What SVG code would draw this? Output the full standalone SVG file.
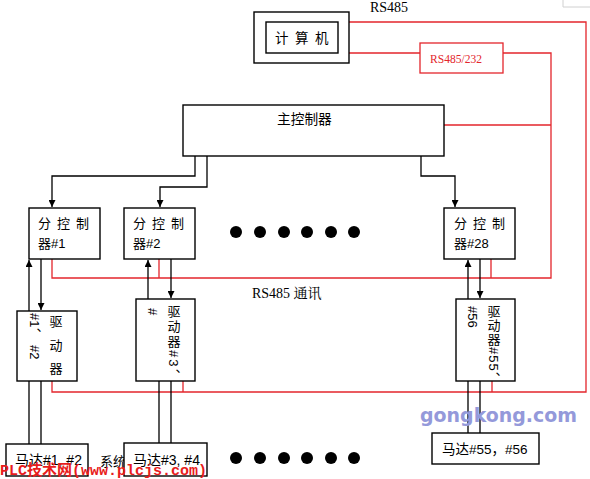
<svg xmlns="http://www.w3.org/2000/svg" width="590" height="479" viewBox="0 0 590 479">
<defs>
<marker id="ah" viewBox="0 0 10 10" refX="10" refY="5" markerWidth="7" markerHeight="7" markerUnits="userSpaceOnUse" orient="auto">
<path d="M0,0 L10,5 L0,10 z" fill="#000"/>
</marker>
<style>
.box{fill:#fff;stroke:#000;stroke-width:1.4}
.blk{fill:none;stroke:#000;stroke-width:1.3}
.red{fill:none;stroke:#e3262c;stroke-width:1.3}
.cjk{font-family:"Liberation Sans","Noto Sans CJK SC",sans-serif;font-size:13px;fill:#000}
.ser{font-family:"Liberation Serif","Noto Serif CJK SC","Noto Sans CJK SC",serif;font-size:14px;fill:#000}
.vt{font-family:"Liberation Sans","Noto Sans CJK SC",sans-serif;font-size:13px;fill:#000;writing-mode:vertical-rl}
.dot{fill:#000}
</style>
</defs>
<rect width="590" height="479" fill="#fff"/>
<path d="M563,0 V7 H590" fill="none" stroke="#d0d0d0" stroke-width="1"/>

<g id="connectors">
<path class="red" d="M349,22 H586 V392 H52 V381 M183,381 V392 M492,381 V392"/>
<path class="red" d="M349,53 H420 M503,53 H551 V278 H52 V259 M159,259 V278 M491,259 V278 M444,125 H551"/>
<path class="blk" d="M195,156 V176 H52 V207" marker-end="url(#ah)"/>
<path class="blk" d="M207,156 V187 H160 V207" marker-end="url(#ah)"/>
<path class="blk" d="M421,156 V176 H455 V207" marker-end="url(#ah)"/>
<path class="blk" d="M29,311 V260" marker-end="url(#ah)"/>
<path class="blk" d="M41,259 V310" marker-end="url(#ah)"/>
<path class="blk" d="M148,299 V260" marker-end="url(#ah)"/>
<path class="blk" d="M171,259 V298" marker-end="url(#ah)"/>
<path class="blk" d="M468,299 V260" marker-end="url(#ah)"/>
<path class="blk" d="M480,259 V298" marker-end="url(#ah)"/>
<path class="blk" d="M29,381 V444 M41,381 V444 M159,381 V443 M171,381 V443 M468,381 V433 M480,381 V433"/>
</g>

<text class="ser" x="370" y="12">RS485</text>
<text class="ser" x="252" y="298">RS485 通讯</text>

<g id="computer">
<rect class="box" x="254" y="12" width="95" height="51"/>
<rect class="box" x="266" y="22" width="72" height="31"/>
<text class="cjk" x="275" y="43" style="font-size:13.5px;letter-spacing:6.5px">计算机</text>
</g>

<g id="rs485_232">
<rect x="420" y="43" width="83" height="30" fill="#fff" stroke="#e3262c" stroke-width="1.3"/>
<text x="430" y="63" font-family="Liberation Serif,serif" font-size="12" fill="#e3262c" textLength="52" lengthAdjust="spacingAndGlyphs">RS485/232</text>
</g>

<g id="main_controller">
<rect class="box" x="183" y="105" width="261" height="51"/>
<text class="cjk" x="277" y="124" style="font-size:13.7px">主控制器</text>
</g>

<g id="ctrl1">
<rect class="box" x="29" y="208" width="71" height="51"/>
<text class="cjk" x="38" y="228" style="letter-spacing:6px">分控制</text>
<text class="cjk" x="38" y="248">器#1</text>
</g>
<g id="ctrl2">
<rect class="box" x="124" y="208" width="71" height="51"/>
<text class="cjk" x="133" y="228" style="letter-spacing:6px">分控制</text>
<text class="cjk" x="133" y="248">器#2</text>
</g>
<g id="ctrl28">
<rect class="box" x="444" y="208" width="71" height="51"/>
<text class="cjk" x="454" y="228" style="letter-spacing:6px">分控制</text>
<text class="cjk" x="454" y="248">器#28</text>
</g>

<g id="dots_top">
<circle class="dot" cx="236" cy="232" r="6"/><circle class="dot" cx="260" cy="232" r="6"/><circle class="dot" cx="284" cy="232" r="6"/><circle class="dot" cx="307" cy="232" r="6"/><circle class="dot" cx="331" cy="232" r="6"/><circle class="dot" cx="354" cy="232" r="6"/>
</g>

<g id="driver1">
<rect class="box" x="17" y="311" width="60" height="70"/>
<text class="vt" x="55" y="315" style="letter-spacing:10.5px">驱动器</text>
<text class="vt" x="34" y="313">#1、</text>
<text class="vt" x="34" y="345">#2</text>
</g>
<g id="driver2">
<rect class="box" x="136" y="299" width="59" height="82"/>
<text class="vt" x="173" y="305" style="letter-spacing:2px">驱动器#3、</text>
<text class="vt" x="152" y="308">#</text>
</g>
<g id="driver3">
<rect class="box" x="456" y="299" width="59" height="82"/>
<text class="vt" x="493" y="305" style="letter-spacing:1px">驱动器#55、</text>
<text class="vt" x="472" y="306">#56</text>
</g>

<text x="420" y="422" font-family="DejaVu Sans,sans-serif" font-weight="bold" font-size="19" fill="#9499da" textLength="157" lengthAdjust="spacingAndGlyphs">gongkong.com</text>

<text class="cjk" x="100" y="466">系统</text>

<g id="motor1">
<rect class="box" x="6" y="444" width="82" height="32"/>
<text class="cjk" x="15" y="465" style="font-size:14px">马达#1, #2</text>
</g>
<g id="motor2">
<rect class="box" x="124" y="443" width="83" height="33"/>
<text class="cjk" x="133" y="465" style="font-size:14px">马达#3, #4</text>
</g>
<g id="motor3">
<rect class="box" x="432" y="433" width="107" height="31"/>
<text class="cjk" x="442" y="454" style="font-size:13.5px">马达#55，#56</text>
</g>

<g id="dots_bottom">
<circle class="dot" cx="236" cy="458" r="6"/><circle class="dot" cx="260" cy="458" r="6"/><circle class="dot" cx="284" cy="458" r="6"/><circle class="dot" cx="307" cy="458" r="6"/><circle class="dot" cx="331" cy="458" r="6"/><circle class="dot" cx="354" cy="458" r="6"/>
</g>

<text x="0" y="475" font-family="Liberation Mono,Noto Sans CJK SC,monospace" font-weight="bold" font-size="15" fill="#e81c1c">PLC技术网(www.plcjs.com)</text>
</svg>
